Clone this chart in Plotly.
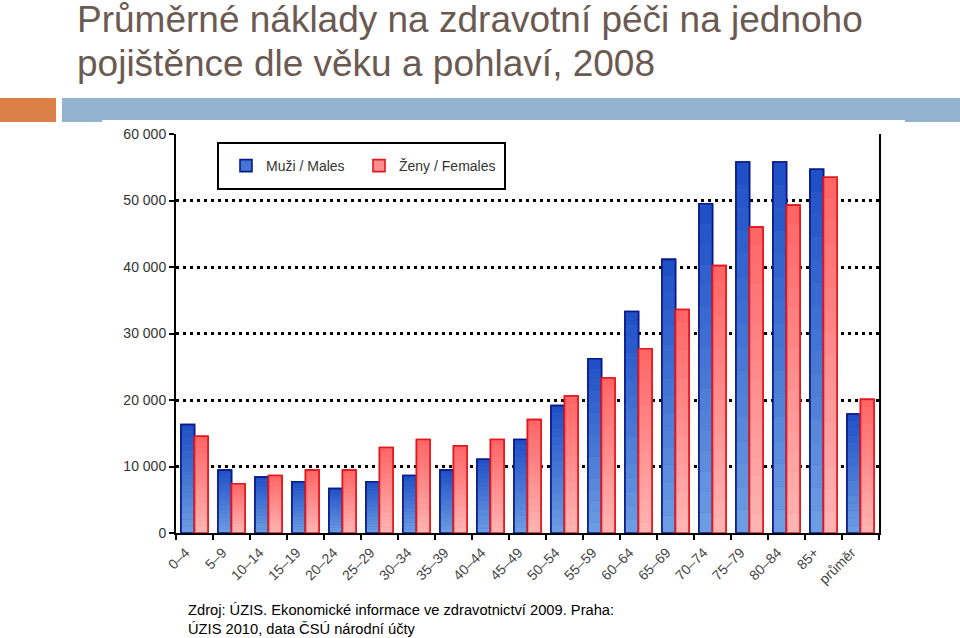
import plotly.graph_objects as go

categories = ["0–4", "5–9", "10–14", "15–19", "20–24", "25–29", "30–34", "35–39",
              "40–44", "45–49", "50–54", "55–59", "60–64", "65–69", "70–74",
              "75–79", "80–84", "85+", "průměr"]
males = [16300, 9450, 8400, 7700, 6700, 7700, 8650, 9450, 11100, 14050, 19150,
         26200, 33300, 41150, 49500, 55800, 55800, 54700, 17900]
females = [14550, 7400, 8650, 9450, 9450, 12850, 14050, 13100, 14050, 17050, 20600,
           23300, 27700, 33600, 40200, 46000, 49300, 53500, 20100]
y_ticks = [0, 10000, 20000, 30000, 40000, 50000, 60000]
y_ticklabels = ["0", "10 000", "20 000", "30 000", "40 000", "50 000", "60 000"]
series_names = ["Muži / Males", "Ženy / Females"]

W, H = 960, 638
FONT = "Liberation Sans, Arial, sans-serif"


def px(x):
    return x / W


def py(y):
    return 1 - y / H


def lerp(c1, c2, t):
    return "rgb(%d,%d,%d)" % tuple(round(a + (b - a) * t) for a, b in zip(c1, c2))


fig = go.Figure()

series = [
    (series_names[0], males, "m", (110, 158, 227), (30, 78, 196), "#0b1a8a", "rgb(70,118,212)", "legend"),
    (series_names[1], females, "f", (255, 182, 182), (255, 100, 100), "#e4161c", "rgb(255,142,142)", "legend2"),
]
N = 16
for name, vals, grp, bot, top, edge, mid, leg in series:
    fig.add_bar(x=categories, y=vals, name=name, offsetgroup=grp, legend=leg,
                marker=dict(color=mid, line=dict(color=edge, width=1.6)),
                hoverinfo="skip")
    for k in range(N):
        fig.add_bar(x=categories, y=[v / N for v in vals],
                    base=[v * k / N for v in vals], offsetgroup=grp,
                    marker=dict(color=lerp(bot, top, (k + 0.5) / N), line=dict(width=0)),
                    showlegend=False, hoverinfo="skip")
    fig.add_bar(x=categories, y=vals, offsetgroup=grp, showlegend=False,
                marker=dict(color="rgba(0,0,0,0)", line=dict(color=edge, width=1.6)),
                hoverinfo="skip")

shapes = [
    dict(type="rect", xref="paper", yref="paper", x0=px(0), x1=px(56), y0=py(98), y1=py(122),
         fillcolor="#dd8047", line=dict(width=0), layer="below"),
    dict(type="rect", xref="paper", yref="paper", x0=px(62), x1=px(960), y0=py(98), y1=py(122),
         fillcolor="#94b3d0", line=dict(width=0), layer="below"),
    dict(type="rect", xref="paper", yref="paper", x0=px(102), x1=px(905), y0=py(120), y1=py(600),
         fillcolor="white", line=dict(width=0), layer="below"),
    dict(type="rect", xref="paper", yref="paper", x0=px(218), x1=px(505), y0=py(189), y1=py(143),
         fillcolor="white", line=dict(color="black", width=2), layer="above"),
]

annotations = [
    dict(text="Průměrné náklady na zdravotní péči na jednoho", xref="paper", yref="paper",
         x=px(75), y=py(20), xanchor="left", yanchor="middle", showarrow=False,
         font=dict(family=FONT, size=37, color="#6b5a52")),
    dict(text="pojištěnce dle věku a pohlaví, 2008", xref="paper", yref="paper",
         x=px(75), y=py(64), xanchor="left", yanchor="middle", showarrow=False,
         font=dict(family=FONT, size=37, color="#6b5a52")),
    dict(text="Zdroj: ÚZIS. Ekonomické informace ve zdravotnictví 2009. Praha:<br>ÚZIS 2010, data ČSÚ národní účty",
         xref="paper", yref="paper", x=px(186), y=py(600), xanchor="left", yanchor="top",
         align="left", showarrow=False, font=dict(family=FONT, size=14.7, color="black")),
]

legend_common = dict(orientation="h", yanchor="middle", bgcolor="rgba(0,0,0,0)", borderwidth=0,
                     font=dict(family=FONT, size=14, color="#333333"))

fig.update_layout(
    width=W, height=H,
    margin=dict(l=0, r=0, t=0, b=0, pad=0, autoexpand=False),
    paper_bgcolor="white", plot_bgcolor="white",
    barmode="group", bargap=0.27, bargroupgap=0,
    showlegend=True,
    legend=dict(x=px(226), y=py(166), xanchor="left", **legend_common),
    legend2=dict(x=px(359), y=py(166), xanchor="left", **legend_common),
    shapes=shapes,
    annotations=annotations,
    xaxis=dict(domain=[px(176), px(879)], type="category", showline=True, linecolor="black",
               linewidth=2, ticks="outside", tickson="boundaries", ticklen=5, tickwidth=2,
               tickcolor="black", tickangle=-45, showgrid=False, automargin=False,
               ticklabelshift=-9, ticklabelstandoff=4,
               tickfont=dict(family=FONT, size=14, color="#444444"), fixedrange=True),
    yaxis=dict(domain=[py(533), py(134)], range=[0, 60000], tickvals=y_ticks,
               ticktext=y_ticklabels, showline=True, linecolor="black", linewidth=2,
               mirror=True, ticks="outside", ticklen=5, tickwidth=2, tickcolor="black",
               showgrid=True, gridcolor="black", gridwidth=3, griddash="3px,4px",
               zeroline=False, automargin=False,
               tickfont=dict(family=FONT, size=14, color="#333333"),
               fixedrange=True),
)

fig.write_html("out.html", config={"displayModeBar": False},
               post_script="document.body.style.margin='0';document.body.style.padding='0';"
                           "document.body.style.overflow='hidden';")
